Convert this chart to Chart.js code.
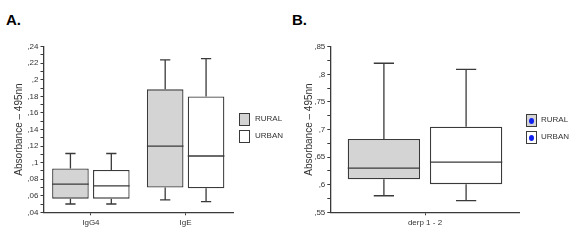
<!DOCTYPE html>
<html>
<head>
<meta charset="utf-8">
<script src="https://cdn.jsdelivr.net/npm/chart.js@4.4.1/dist/chart.umd.min.js"></script>
<style>
    body { margin: 0; background: #fff; width: 576px; height: 241px; position: relative; overflow: hidden;
           font-family: "Liberation Sans", Arial, sans-serif; }
    canvas { position: absolute; top: 0; }
    .tag { position: absolute; font-weight: bold; font-size: 15px; color: #000; line-height: 1; }
    .leg { position: absolute; font-size: 8px; color: #333; line-height: 1; }
    .sw { position: absolute; width: 9px; height: 11px; border: 1px solid #3a3a3a; box-sizing: content-box; }
    .dot { position: absolute; left: 2px; top: 3px; width: 5px; height: 6px; border-radius: 50%; background: #1020f0; }
</style>
</head>
<body>
<div class="tag" style="left:6px; top:12px">A.</div>
<div class="tag" style="left:292px; top:12px">B.</div>
<canvas id="chart-a" width="286" height="241" style="left:0; width:286px; height:241px"></canvas>
<canvas id="chart-b" width="290" height="241" style="left:286px; width:290px; height:241px"></canvas>

<div class="sw" style="left:239px; top:113px; background:#d4d4d4"></div>
<div class="leg" style="left:255px; top:115px">RURAL</div>
<div class="sw" style="left:239px; top:130px; background:#fff"></div>
<div class="leg" style="left:255px; top:132px">URBAN</div>

<div class="sw" style="left:526px; top:114px; background:#d4d4d4"><div class="dot"></div></div>
<div class="leg" style="left:541px; top:116px">RURAL</div>
<div class="sw" style="left:526px; top:131px; background:#fff"><div class="dot"></div></div>
<div class="leg" style="left:541px; top:133px">URBAN</div>

<script>
// five-number summaries per category: [min, q1, median, q3, max]
const categoriesA = ['IgG4', 'IgE'];
const ruralA = [[0.050, 0.0565, 0.074, 0.093, 0.111], [0.055, 0.070, 0.120, 0.1885, 0.224]];
const urbanA = [[0.050, 0.0565, 0.072, 0.091, 0.111], [0.053, 0.069, 0.108, 0.180, 0.2255]];

const categoriesB = ['derp 1 - 2'];
const ruralB = [[0.580, 0.610, 0.630, 0.683, 0.820]];
const urbanB = [[0.571, 0.601, 0.641, 0.705, 0.809]];

const yTitle = 'Absorbance \u2013 495nn';
const LINE = '#3a3a3a';

// comma decimals without the leading zero: 0.08 -> ",08", 0.1 -> ",1"
function fmt(v) {
    return String(Number(v.toFixed(3))).replace(/^0\./, ',');
}

// median line and whiskers drawn on top of the floating bars
const boxWhiskers = {
    id: 'boxWhiskers',
    afterDatasetsDraw(chart) {
        const ctx = chart.ctx;
        const y = chart.scales.y;
        chart.data.datasets.forEach((ds, i) => {
            chart.getDatasetMeta(i).data.forEach((bar, j) => {
                const [lo, q1, med, q3, hi] = ds.stats[j];
                const x = bar.x, half = bar.width / 2, cap = bar.width * 0.14;
                const yLo = y.getPixelForValue(lo), yHi = y.getPixelForValue(hi);
                ctx.save();
                ctx.strokeStyle = LINE;
                ctx.lineWidth = 1.3;
                ctx.beginPath();
                ctx.moveTo(x - half, y.getPixelForValue(med));
                ctx.lineTo(x + half, y.getPixelForValue(med));
                ctx.moveTo(x, y.getPixelForValue(q3));
                ctx.lineTo(x, yHi);
                ctx.moveTo(x - cap, yHi);
                ctx.lineTo(x + cap, yHi);
                ctx.moveTo(x, y.getPixelForValue(q1));
                ctx.lineTo(x, yLo);
                ctx.moveTo(x - cap, yLo);
                ctx.lineTo(x + cap, yLo);
                ctx.stroke();
                ctx.restore();
            });
        });
    }
};

function makeBox(canvasId, cfg) {
    const dataset = (label, stats, fill) => ({
        label,
        stats,
        data: stats.map(s => [s[1], s[3]]),
        backgroundColor: fill,
        borderColor: LINE,
        borderWidth: 1.3,
        borderSkipped: false,
        categoryPercentage: cfg.catPct,
        barPercentage: cfg.barPct
    });
    return new Chart(document.getElementById(canvasId), {
        type: 'bar',
        data: {
            labels: cfg.labels,
            datasets: [dataset('RURAL', cfg.rural, '#d4d4d4'), dataset('URBAN', cfg.urban, '#ffffff')]
        },
        options: {
            responsive: false,
            animation: false,
            layout: { padding: { left: cfg.padLeft, right: cfg.padRight, top: 46.7, bottom: 0 } },
            plugins: { legend: { display: false }, tooltip: { enabled: false } },
            scales: {
                x: {
                    grid: { drawOnChartArea: false, offset: false, tickLength: 3, color: LINE },
                    border: { color: LINE, width: 1.3 },
                    ticks: { font: { size: 8, family: 'Liberation Sans' }, color: '#333', padding: 3 },
                    afterFit: s => { s.height = 28.7; }
                },
                y: {
                    min: cfg.min,
                    max: cfg.max,
                    grid: { drawOnChartArea: false, tickLength: 3, color: LINE },
                    border: { color: LINE, width: 1.3 },
                    ticks: {
                        stepSize: cfg.minorStep,
                        autoSkip: false,
                        padding: 2,
                        font: { size: 8, family: 'Liberation Sans' },
                        color: '#333',
                        callback: v => Math.round(v * 1000) % Math.round(cfg.majorStep * 1000) === 0 ? fmt(v) : ''
                    },
                    title: {
                        display: true,
                        text: yTitle,
                        color: '#333',
                        padding: 0,
                        font: { size: 10, family: 'Liberation Sans' }
                    },
                    afterFit: s => { s.width = cfg.axisWidth; }
                }
            }
        },
        plugins: [boxWhiskers]
    });
}

makeBox('chart-a', {
    labels: categoriesA, rural: ruralA, urban: urbanA,
    min: 0.04, max: 0.24, minorStep: 0.01, majorStep: 0.02,
    catPct: 0.863, barPct: 0.895,
    padLeft: 13, axisWidth: 30.5, padRight: 53
});

makeBox('chart-b', {
    labels: categoriesB, rural: ruralB, urban: urbanB,
    min: 0.55, max: 0.85, minorStep: 0.025, majorStep: 0.05,
    catPct: 0.868, barPct: 0.88,
    padLeft: 17, axisWidth: 27.3, padRight: 56.3
});
</script>
</body>
</html>
